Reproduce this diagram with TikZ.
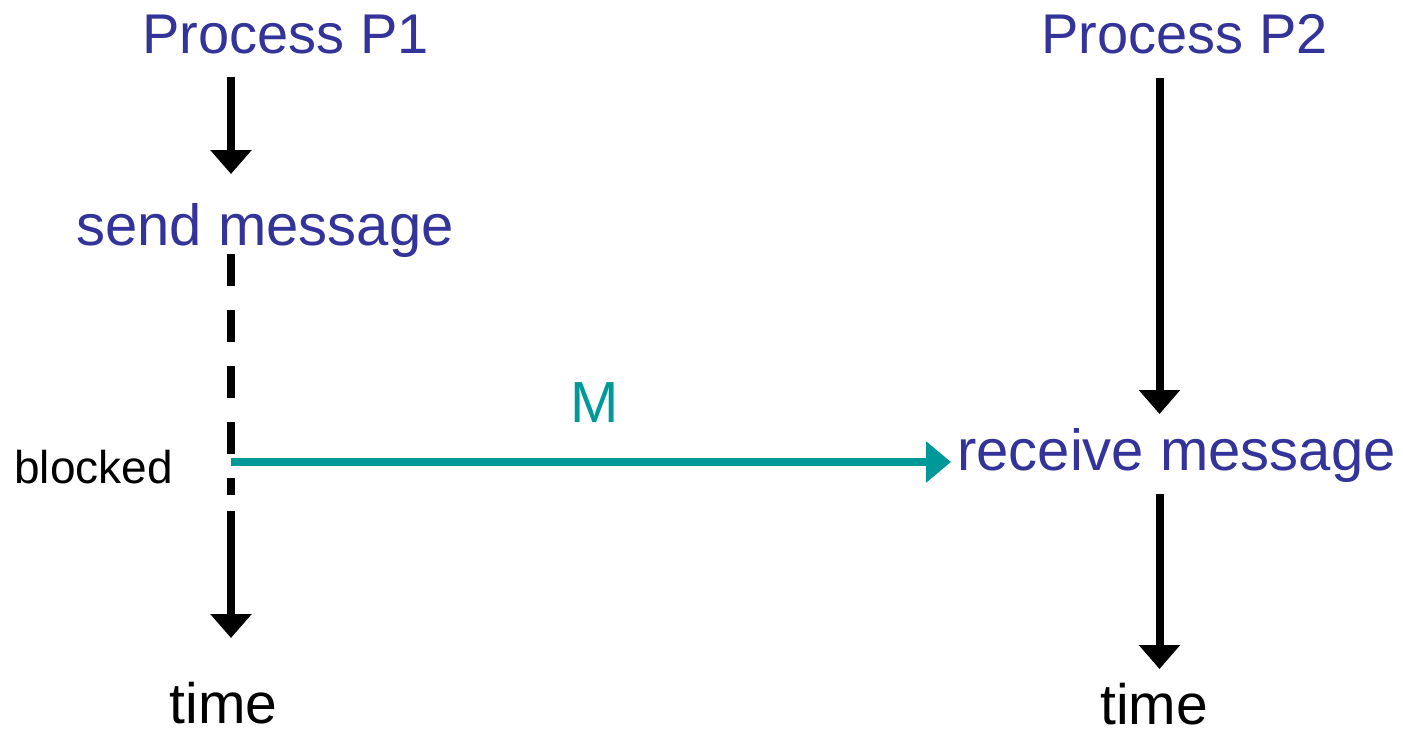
\documentclass[tikz,border=0pt]{standalone}
\usepackage{fontspec}
\setmainfont{Liberation Sans}
\usetikzlibrary{arrows.meta}
\definecolor{procblue}{HTML}{333399}
\definecolor{msgteal}{HTML}{009999}
\tikzset{
  lbl/.style={anchor=base, inner sep=0pt, text=procblue},
  bigfont/.style={font=\fontsize{56}{60}\selectfont},
  midfont/.style={font=\fontsize{58}{62}\selectfont},
  timelbl/.style={anchor=base, inner sep=0pt, text=black, font=\fontsize{57}{60}\selectfont},
  flow/.style={line width=8pt, draw=black, -{Triangle[width=40pt,length=24pt]}},
  waitline/.style={line width=8pt, draw=black, dash pattern=on 32pt off 24pt},
  msg/.style={line width=8pt, draw=msgteal, -{Triangle[width=40pt,length=25pt]}}
}
\begin{document}
\begin{tikzpicture}[x=1pt, y=-1pt]
  \useasboundingbox (0,0) rectangle (1403,729);

  % process headings
  \node[lbl, bigfont] (p1) at (285.5,53) {Process P1};
  \node[lbl, bigfont] (p2) at (1184.5,53) {Process P2};

  % events on the two time lines
  \node[lbl, midfont] (send) at (265,245) {send message};
  \node[lbl, midfont] (recv) at (1176.5,470) {receive message};
  \node[anchor=base, inner sep=0pt, font=\fontsize{46}{50}\selectfont] (blk) at (93.5,483) {blocked};
  \node[anchor=base, inner sep=0pt, text=msgteal, midfont] (m) at (594.5,422) {M};
  \node[timelbl] (t1) at (223.5,723) {time};
  \node[timelbl] (t2) at (1154,724) {time};

  % time line of P1
  \coordinate (a1s) at (231,77);
  \coordinate (a1e) at (231,174);
  \coordinate (w1s) at (231,254);
  \coordinate (w1e) at (231,494.5);
  \coordinate (a2s) at (231,510.5);
  \coordinate (a2e) at (231,638);
  \draw[flow] (a1s) -- (a1e);
  \draw[waitline] (w1s) -- (w1e);
  \draw[flow] (a2s) -- (a2e);

  % time line of P2
  \coordinate (b1s) at (1159.5,78);
  \coordinate (b1e) at (1159.5,414);
  \coordinate (b2s) at (1159.5,494);
  \coordinate (b2e) at (1159.5,669);
  \draw[flow] (b1s) -- (b1e);
  \draw[flow] (b2s) -- (b2e);

  % the message M
  \coordinate (ms) at (231,462);
  \coordinate (me) at (951,462);
  \draw[msg] (ms) -- (me);
\end{tikzpicture}
\end{document}
